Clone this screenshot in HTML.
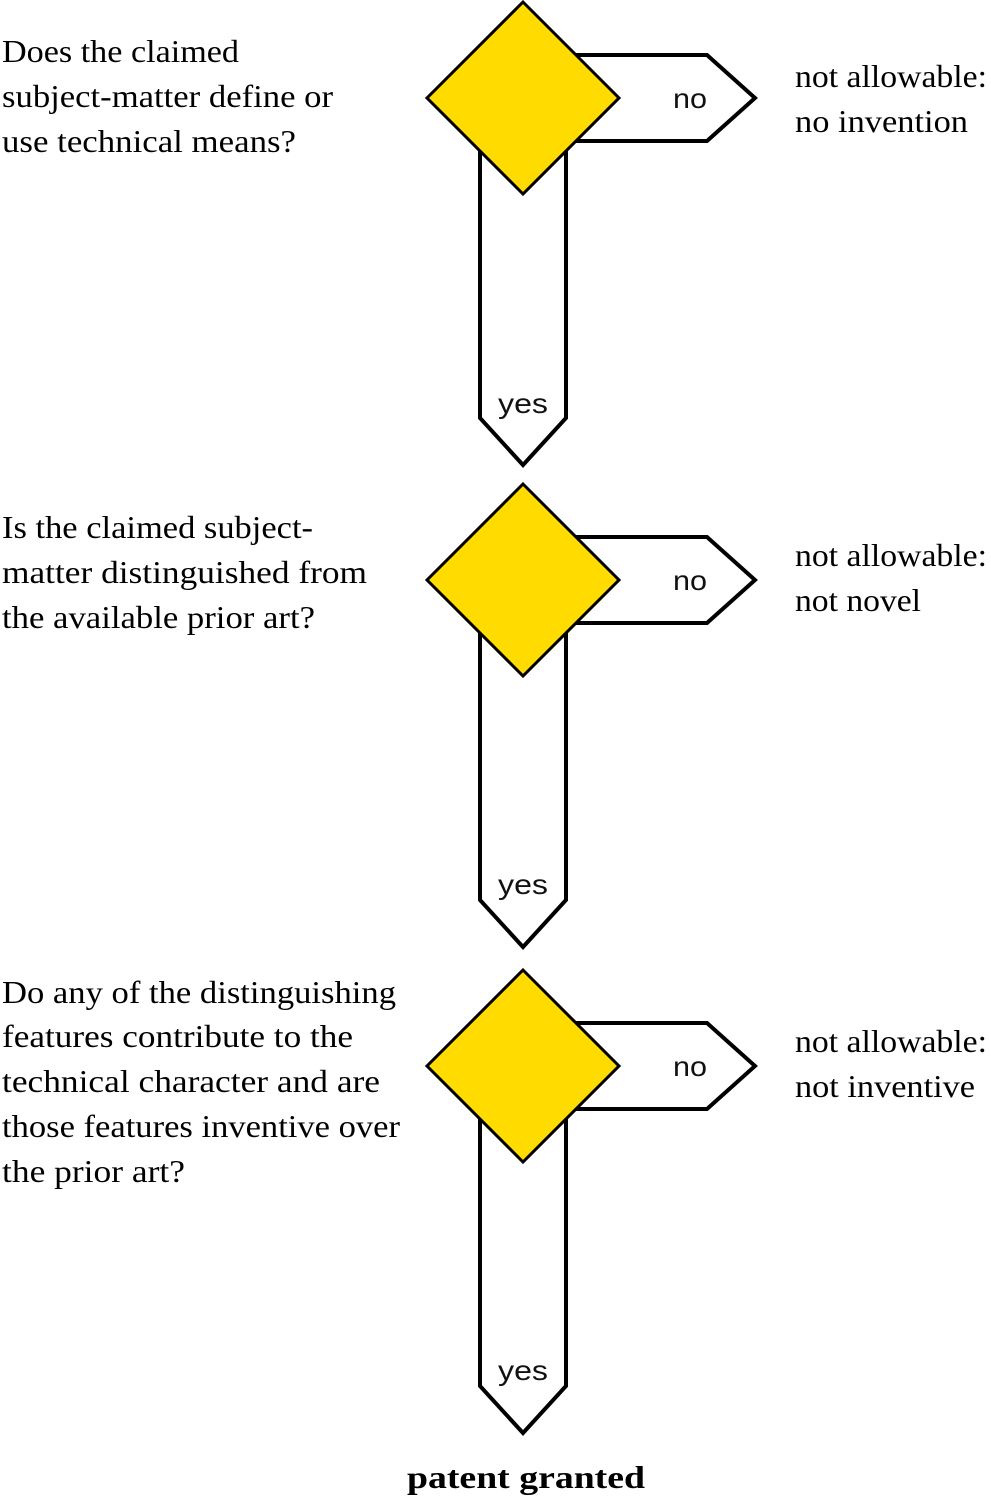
<!DOCTYPE html>
<html>
<head>
<meta charset="utf-8">
<style>
  html,body{margin:0;padding:0;background:#fff;}
  svg{display:block;}
  .q{font-family:"Liberation Serif",serif;font-size:32px;fill:#000;}
  .s{font-family:"Liberation Sans",sans-serif;font-size:28px;fill:#111;}
  .b{font-family:"Liberation Serif",serif;font-size:32px;font-weight:bold;fill:#000;}
</style>
</head>
<body>
<svg width="991" height="1500" viewBox="0 0 991 1500" xmlns="http://www.w3.org/2000/svg">
  <!-- Block 1 (cy=98) -->
  <g stroke="#000" stroke-width="4" fill="#fff" stroke-linejoin="miter">
    <polygon points="480,118 566,118 566,418 523,465 480,418"/>
    <polygon points="560,55 707,55 755,98 707,141 560,141"/>
  </g>
  <polygon points="523,2 619,98 523,194 427,98" fill="#FFDB00" stroke="#000" stroke-width="3"/>
  <text class="s" x="673" y="108" textLength="34" lengthAdjust="spacingAndGlyphs">no</text>
  <text class="s" x="498" y="413" textLength="50" lengthAdjust="spacingAndGlyphs">yes</text>

  <!-- Block 2 (cy=580) -->
  <g stroke="#000" stroke-width="4" fill="#fff" stroke-linejoin="miter">
    <polygon points="480,600 566,600 566,900 523,947 480,900"/>
    <polygon points="560,537 707,537 755,580 707,623 560,623"/>
  </g>
  <polygon points="523,484 619,580 523,676 427,580" fill="#FFDB00" stroke="#000" stroke-width="3"/>
  <text class="s" x="673" y="590" textLength="34" lengthAdjust="spacingAndGlyphs">no</text>
  <text class="s" x="498" y="894" textLength="50" lengthAdjust="spacingAndGlyphs">yes</text>

  <!-- Block 3 (cy=1065) -->
  <g stroke="#000" stroke-width="4" fill="#fff" stroke-linejoin="miter">
    <polygon points="480,1085 566,1085 566,1386 523,1433 480,1386"/>
    <polygon points="560,1023 707,1023 755,1066 707,1109 560,1109"/>
  </g>
  <polygon points="523,970 619,1066 523,1162 427,1066" fill="#FFDB00" stroke="#000" stroke-width="3"/>
  <text class="s" x="673" y="1076" textLength="34" lengthAdjust="spacingAndGlyphs">no</text>
  <text class="s" x="498" y="1380" textLength="50" lengthAdjust="spacingAndGlyphs">yes</text>

  <!-- Left questions -->
  <text class="q" x="2" y="62" textLength="237" lengthAdjust="spacingAndGlyphs">Does the claimed</text>
  <text class="q" x="2" y="107" textLength="331" lengthAdjust="spacingAndGlyphs">subject-matter define or</text>
  <text class="q" x="2" y="152" textLength="294" lengthAdjust="spacingAndGlyphs">use technical means?</text>

  <text class="q" x="2" y="538" textLength="311" lengthAdjust="spacingAndGlyphs">Is the claimed subject-</text>
  <text class="q" x="2" y="583" textLength="365" lengthAdjust="spacingAndGlyphs">matter distinguished from</text>
  <text class="q" x="2" y="628" textLength="313" lengthAdjust="spacingAndGlyphs">the available prior art?</text>

  <text class="q" x="2" y="1003" textLength="394" lengthAdjust="spacingAndGlyphs">Do any of the distinguishing</text>
  <text class="q" x="2" y="1047" textLength="351" lengthAdjust="spacingAndGlyphs">features contribute to the</text>
  <text class="q" x="2" y="1092" textLength="378" lengthAdjust="spacingAndGlyphs">technical character and are</text>
  <text class="q" x="2" y="1137" textLength="398" lengthAdjust="spacingAndGlyphs">those features inventive over</text>
  <text class="q" x="2" y="1182" textLength="183" lengthAdjust="spacingAndGlyphs">the prior art?</text>

  <!-- Right results -->
  <text class="q" x="795" y="87" textLength="192" lengthAdjust="spacingAndGlyphs">not allowable:</text>
  <text class="q" x="795" y="132" textLength="173" lengthAdjust="spacingAndGlyphs">no invention</text>

  <text class="q" x="795" y="566" textLength="192" lengthAdjust="spacingAndGlyphs">not allowable:</text>
  <text class="q" x="795" y="611" textLength="126" lengthAdjust="spacingAndGlyphs">not novel</text>

  <text class="q" x="795" y="1052" textLength="192" lengthAdjust="spacingAndGlyphs">not allowable:</text>
  <text class="q" x="795" y="1097" textLength="180" lengthAdjust="spacingAndGlyphs">not inventive</text>

  <!-- Final -->
  <text class="b" x="407" y="1488" textLength="238" lengthAdjust="spacingAndGlyphs">patent granted</text>
</svg>
</body>
</html>
